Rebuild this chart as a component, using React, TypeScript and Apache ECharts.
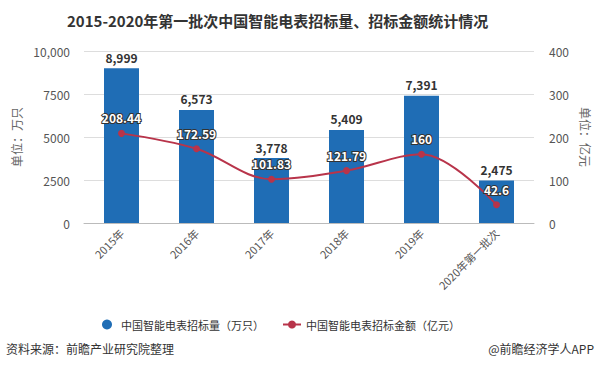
import React, { useEffect, useRef } from "react";
import * as echarts from "echarts";

const categories = ["2015年", "2016年", "2017年", "2018年", "2019年", "2020年第一批次"];
const volumeValues = [8999, 6573, 3778, 5409, 7391, 2475];
const amountValues = [208.44, 172.59, 101.83, 121.79, 160, 42.6];
const volumeName = "中国智能电表招标量（万只）";
const amountName = "中国智能电表招标金额（亿元）";
const titleText = "2015-2020年第一批次中国智能电表招标量、招标金额统计情况";
const sourceText = "资料来源：前瞻产业研究院整理";
const brandText = "@前瞻经济学人APP";

const FONT = "'Noto Sans CJK SC', 'Noto Sans', sans-serif";

export default function App() {
  const ref = useRef<HTMLDivElement>(null);
  useEffect(() => {
    document.body.style.margin = "0";
    const chart = echarts.init(ref.current!, null, { renderer: "svg" });
    chart.setOption({
      animation: false,
      textStyle: { fontFamily: FONT },
      title: {
        text: titleText,
        left: 62,
        top: 8,
        textStyle: { fontSize: 15, fontWeight: "bold", color: "#333", fontFamily: FONT },
      },
      grid: { left: 84, right: 66, top: 51, bottom: 144 },
      legend: {
        bottom: 32,
        left: 97,
        itemGap: 18,
        itemWidth: 18,
        itemHeight: 10,
        textStyle: { fontSize: 11, color: "#333", fontFamily: FONT },
        data: [
          { name: volumeName, icon: "circle" },
          { name: amountName },
        ],
      },
      graphic: [
        {
          type: "text",
          left: 6,
          top: 342,
          style: { text: sourceText, fontSize: 12, fill: "#333", fontFamily: FONT },
        },
        {
          type: "text",
          right: 6,
          top: 342,
          style: { text: brandText, fontSize: 12, fill: "#333", fontFamily: FONT },
        },
      ],
      xAxis: {
        type: "category",
        data: categories,
        axisLine: { lineStyle: { color: "#bbb" } },
        axisTick: { alignWithLabel: true, lineStyle: { color: "#bbb" } },
        axisLabel: { rotate: 45, fontSize: 11, color: "#555", margin: 8 },
      },
      yAxis: [
        {
          type: "value",
          min: 0,
          max: 10000,
          interval: 2500,
          name: "单位：万只",
          nameLocation: "middle",
          nameRotate: 90,
          nameGap: 62,
          nameTextStyle: { fontSize: 12, color: "#666" },
          axisLine: { show: false },
          axisTick: { show: false },
          axisLabel: {
            fontSize: 12,
            color: "#555",
            margin: 14,
            formatter: (v: number) => (v === 10000 ? "10,000" : String(v)),
          },
          splitLine: { lineStyle: { color: "#ddd" } },
        },
        {
          type: "value",
          min: 0,
          max: 400,
          interval: 100,
          name: "单位：亿元",
          nameLocation: "middle",
          nameRotate: -90,
          nameGap: 44,
          nameTextStyle: { fontSize: 12, color: "#666" },
          axisLine: { show: false },
          axisTick: { show: false },
          axisLabel: { fontSize: 12, color: "#555", margin: 15 },
          splitLine: { show: false },
        },
      ],
      series: [
        {
          name: volumeName,
          type: "bar",
          data: volumeValues,
          barWidth: 35,
          itemStyle: { color: "#1f6db5" },
          label: {
            show: true,
            position: "top",
            fontSize: 12,
            fontWeight: "bold",
            color: "#333",
            formatter: (p: any) => Number(p.value).toLocaleString("en-US"),
          },
        },
        {
          name: amountName,
          type: "line",
          yAxisIndex: 1,
          data: amountValues,
          smooth: 0.35,
          symbol: "circle",
          symbolSize: 7,
          lineStyle: { color: "#b8344a", width: 2 },
          itemStyle: { color: "#b8344a" },
          label: {
            show: true,
            position: "top",
            distance: 6,
            fontSize: 12,
            fontWeight: "bold",
            color: "#fff",
            textBorderColor: "#333",
            textBorderWidth: 2,
          },
        },
      ],
    });
    return () => chart.dispose();
  }, []);
  return <div ref={ref} style={{ width: 600, height: 367 }} />;
}
